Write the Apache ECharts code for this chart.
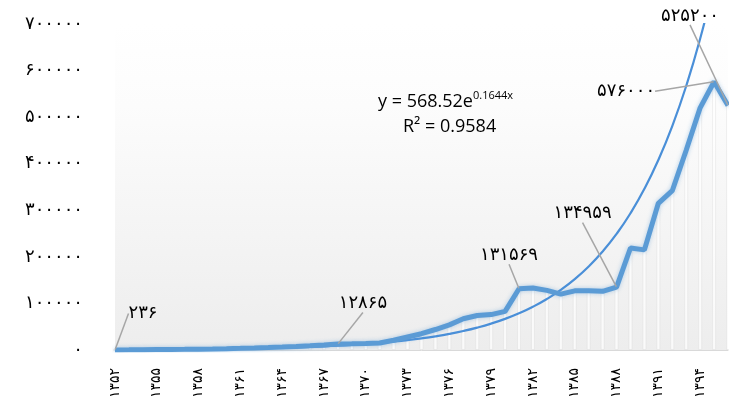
<!DOCTYPE html>
<html>
<head>
<meta charset="utf-8">
<script src="https://cdn.jsdelivr.net/npm/echarts@6/dist/echarts.min.js"></script>
<style>
  html, body { margin: 0; padding: 0; background: #fff; }
  #chart { width: 729px; height: 406px; }
</style>
</head>
<body>
<div id="chart"></div>
<script>
'use strict';

// --- years (category axis)
var years = [1352, 1353, 1354, 1355, 1356, 1357, 1358, 1359, 1360, 1361, 1362, 1363, 1364, 1365, 1366,
  1367, 1368, 1369, 1370, 1371, 1372, 1373, 1374, 1375, 1376, 1377, 1378, 1379, 1380, 1381, 1382,
  1383, 1384, 1385, 1386, 1387, 1388, 1389, 1390, 1391, 1392, 1393, 1394, 1395, 1396];

// --- values
var values = [236, 400, 600, 850, 1100, 1400, 1800, 2300, 2900, 3600, 4400, 5300, 6300, 7500, 9000,
  10800, 12865, 13500, 14200, 15000, 21000, 28000, 35000, 44000, 54000, 67000, 74000, 76000, 83000, 131569, 133000,
  128000, 120000, 127000, 127000, 126000, 134959, 219000, 215000, 315000, 342000, 429000, 520000, 576000, 525200];

// --- exponential trend line as drawn (last point is clipped at the top)
var trend = [670, 790, 931, 1097, 1293, 1524, 1797, 2118, 2496, 2942, 3468, 4088, 4818, 5679, 6694,
  7890, 9300, 10962, 12921, 15230, 17951, 21159, 24940, 29396, 34649, 40840, 48138, 56740, 66879, 78830, 92916,
  109520, 129090, 152157, 179347, 211395, 249170, 293694, 346175, 408033, 480945, 566886, 668183, 787585];

// --- y ticks
var yMin = 0;
var yMax = 700000;
var yStep = 100000;

// --- which points get a callout
var calloutIdx = [0, 16, 29, 36, 43, 44];

var trendEq = 'y = 568.52e';
var trendExp = '0.1644x';
var trendR2 = 'R² = 0.9584';

function fa(n) {
  var digits = '۰۱۲۳۴۵۶۷۸۹';
  return String(n).replace(/\d/g, function (d) {
    return digits[d];
  });
}

var myChart = echarts.init(document.getElementById('chart'));

// labels only live on symbols, so callout points get a tiny invisible one
var lineData = values.map(function (v, idx) {
  if (calloutIdx.indexOf(idx) !== -1) {
    return { value: v, symbol: 'circle', symbolSize: 1, label: { show: true } };
  }
  return { value: v, symbol: 'none' };
});

// offsets of the callouts from the default 'top' label spot
var calloutShift = {
  0: [28, -17],
  16: [25, -21],
  29: [-10, -14],
  36: [-34, -54],
  43: [-88, 29],
  44: [-38, -70]
};

var option = {
  animation: false,
  grid: {
    left: 115,
    right: 1,
    top: 24,
    bottom: 56,
    show: true,
    borderWidth: 0,
    backgroundColor: new echarts.graphic.LinearGradient(0, 0, 0, 1, [
      { offset: 0, color: '#ffffff' },
      { offset: 0.25, color: '#fcfcfc' },
      { offset: 1, color: '#ededed' }
    ])
  },
  xAxis: {
    type: 'category',
    data: years,
    boundaryGap: false,
    axisLine: { show: true, lineStyle: { color: '#d9d9d9', width: 1 } },
    axisTick: { show: false },
    axisLabel: {
      interval: 2,
      rotate: 90,
      margin: 18,
      fontFamily: 'DejaVu Sans',
      fontSize: 14,
      color: '#000',
      formatter: function (v) {
        return fa(v);
      }
    },
    splitLine: { show: false }
  },
  yAxis: {
    type: 'value',
    min: yMin,
    max: yMax,
    interval: yStep,
    axisLine: { show: false },
    axisTick: { show: false },
    splitLine: { show: false },
    axisLabel: {
      margin: 32,
      fontFamily: 'DejaVu Sans',
      fontSize: 18,
      color: '#000',
      formatter: function (v) {
        return fa(v);
      }
    }
  },
  series: [
    {
      // faint stripes behind the line
      type: 'bar',
      silent: true,
      data: values,
      barWidth: 4,
      itemStyle: {
        color: 'rgba(255,255,255,0.7)',
        borderColor: 'rgba(215,215,215,0.35)',
        borderWidth: 1
      },
      z: 1
    },
    {
      type: 'line',
      data: trend,
      smooth: true,
      symbol: 'none',
      clip: true,
      lineStyle: { color: '#4a8fd8', width: 2.2 },
      z: 3
    },
    {
      type: 'line',
      data: lineData,
      showSymbol: true,
      itemStyle: { color: 'rgba(91,155,213,0)' },
      lineStyle: {
        color: '#5b9bd5',
        width: 5,
        shadowColor: 'rgba(91,155,213,0.45)',
        shadowBlur: 4
      },
      label: {
        show: false,
        position: 'top',
        padding: 5,
        fontFamily: 'DejaVu Sans',
        fontSize: 18,
        color: '#000',
        formatter: function (p) {
          return fa(p.value);
        }
      },
      labelLine: {
        show: true,
        lineStyle: { color: '#a6a6a6', width: 1.5 }
      },
      labelLayout: function (params) {
        var s = calloutShift[params.dataIndex];
        if (!s) {
          return {};
        }
        return { dx: s[0], dy: s[1] };
      },
      z: 4
    }
  ],
  graphic: [
    {
      type: 'text',
      left: 378,
      top: 90,
      z: 10,
      style: {
        text: '{a|' + trendEq + '}{b|' + trendExp + '}',
        rich: {
          a: { fontFamily: 'Open Sans', fontSize: 18, color: '#000', verticalAlign: 'bottom' },
          b: { fontFamily: 'Open Sans', fontSize: 11, color: '#000', padding: [0, 0, 10, 0] }
        }
      }
    },
    {
      type: 'text',
      left: 403,
      top: 118,
      z: 10,
      style: {
        text: trendR2,
        fontFamily: 'Open Sans',
        fontSize: 18,
        fill: '#000'
      }
    }
  ]
};

myChart.setOption(option);
</script>
</body>
</html>
